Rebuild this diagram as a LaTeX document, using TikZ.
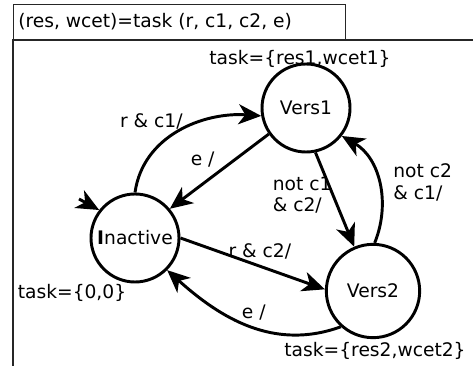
\documentclass[tikz,border=0pt]{standalone}
\usepackage{fontspec}
\setmainfont{DejaVu Sans}
\usetikzlibrary{positioning, arrows.meta}

\begin{document}
\begin{tikzpicture}[
    x=0.75pt, y=-0.75pt,
    font=\fontsize{14}{16}\selectfont,
    state/.style={
        circle, draw=black, line width=2.2pt,
        minimum size=66pt, inner sep=0pt
    },
    trans/.style={
        line width=2.2pt,
        -{Stealth[length=17pt,width=15pt,inset=5pt]}
    },
    frame/.style={draw=black!85, line width=0.8pt},
    lbl/.style={inner sep=0pt, align=left}
]
\useasboundingbox (0,0) rectangle (473,366);

% Header
\node[frame, rectangle, anchor=north west, minimum width=249pt,
      minimum height=27pt, inner sep=0pt] (head) at (13,4) {};
\node[anchor=west, inner sep=0pt] (sig) at (18,22)
{(res, wcet)=task (r, c1, c2, e)};
\coordinate (corner) at (13,40);
\draw[frame] (13,366) -- (corner) -- (473,40);

% States
\node[state] (inactive) at (135,238) {\textbf{I}nactive};
\node[state] (vers1) at (306,108) {Vers1};
\node[state, minimum size=70pt] (vers2) at (373,291) {Vers2};

% Outputs
\node[lbl] (out1) at (300,59) {task=\{res1,wcet1\}};
\node[lbl] (out0) at (72,293) {task=\{0,0\}};
\node[lbl] (out2) at (375,351) {task=\{res2,wcet2\}};

% Initial
\coordinate (init) at (79,199);
\draw[trans] (init) -- (inactive.142);

% Transitions
\draw[trans] (inactive.90) to[out=82, in=176]
    node[lbl, pos=0.55, anchor=south east, xshift=-2pt, yshift=-2pt] (t1) {r \& c1/} (vers1.190);
\draw[trans] (vers1.215) --
    node[lbl, pos=0.52, anchor=south east, xshift=-1pt, yshift=3pt] (t2) {e /} (inactive.40);
\draw[trans] (inactive.0) --
    node[lbl, pos=0.55, anchor=south, yshift=4pt] (t3) {r \& c2/} (vers2.178);
\draw[trans] (vers2.228) to[out=200, in=-42]
    node[lbl, pos=0.47, anchor=south, yshift=4pt] (t4) {e /} (inactive.-45);
\draw[trans] (vers1.-78) --
    node[lbl, pos=0.45, anchor=east, xshift=0pt] (t5) {not c1\\\& c2/} (vers2.113);
\draw[trans] (vers2.88) to[out=68, in=-30]
    node[lbl, pos=0.5, anchor=west, xshift=10pt] (t6) {not c2\\\& c1/} (vers1.-38);

\end{tikzpicture}
\end{document}
